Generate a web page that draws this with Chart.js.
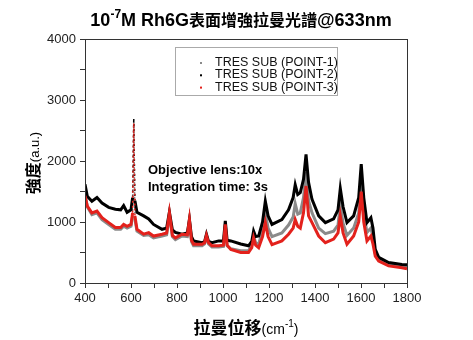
<!DOCTYPE html>
<html>
<head>
<meta charset="utf-8">
<script src="https://cdn.jsdelivr.net/npm/chart.js@4/dist/chart.umd.min.js"></script>
<style>
  html, body { margin: 0; padding: 0; background: #fff; }
  #wrap { width: 473px; height: 340px; }
</style>
</head>
<body>
<div id="wrap"><canvas id="c" width="473" height="340"></canvas></div>
<script>
const wavenumbers = [400, 410, 430, 452, 474, 503, 532, 555, 568, 583, 600, 607, 612, 617, 626, 655, 677, 698, 735, 755, 767, 780, 793, 822, 845, 854, 863, 872, 909, 920, 928, 937, 952, 981, 1002, 1010, 1018, 1034, 1077, 1111, 1125, 1133, 1142, 1155, 1172, 1184, 1196, 1213, 1256, 1285, 1305, 1314, 1325, 1336, 1350, 1361, 1372, 1387, 1416, 1445, 1481, 1500, 1510, 1522, 1539, 1568, 1590, 1601, 1612, 1626, 1643, 1652, 1662, 1677, 1720, 1778, 1800];

const point1 = [1460, 1250, 1120, 1150, 1040, 960, 880, 880, 930, 900, 930, 1100, 2650, 1050, 850, 780, 790, 740, 770, 790, 1120, 760, 710, 770, 760, 1010, 680, 610, 610, 640, 760, 640, 590, 590, 600, 940, 610, 560, 530, 530, 620, 770, 660, 640, 860, 1150, 900, 760, 820, 950, 1080, 1300, 1130, 1150, 1400, 1820, 1350, 1150, 900, 810, 850, 950, 1280, 980, 780, 900, 1150, 1700, 1150, 830, 900, 760, 480, 380, 300, 280, 270];

const point2 = [1620, 1420, 1340, 1400, 1310, 1240, 1210, 1200, 1270, 1160, 1200, 1400, 2700, 1350, 1160, 1100, 1050, 960, 880, 900, 1160, 870, 830, 800, 820, 1040, 760, 690, 660, 680, 800, 680, 660, 690, 690, 1020, 700, 690, 640, 610, 680, 850, 760, 770, 1000, 1340, 1100, 960, 1040, 1200, 1400, 1610, 1450, 1480, 1700, 2110, 1650, 1370, 1100, 990, 1050, 1200, 1550, 1250, 990, 1100, 1400, 1950, 1400, 990, 1070, 900, 550, 420, 335, 305, 300];

const point3 = [1430, 1260, 1150, 1180, 1070, 990, 910, 910, 960, 930, 960, 1150, 2620, 1100, 880, 800, 825, 770, 800, 820, 1150, 780, 740, 800, 790, 1040, 700, 635, 635, 660, 780, 660, 610, 610, 620, 960, 620, 550, 500, 500, 580, 740, 620, 580, 760, 990, 760, 630, 690, 800, 900, 1040, 930, 900, 1150, 1590, 1100, 990, 770, 660, 720, 820, 1100, 820, 635, 770, 1000, 1500, 1000, 690, 770, 640, 440, 360, 280, 250, 235];

const seriesLabels = ['TRES SUB (POINT-1)', 'TRES SUB (POINT-2)', 'TRES SUB (POINT-3)'];
const seriesColors = ['#8a8a8a', '#000000', '#e3211c'];
const xTickLabels = [400, 600, 800, 1000, 1200, 1400, 1600, 1800];
const yTickLabels = [0, 1000, 2000, 3000, 4000];

const toPts = arr => arr.map((v, i) => ({ x: wavenumbers[i], y: v }));

const LAT = '"Liberation Sans", Arial, "Noto Sans CJK TC", sans-serif';
const CJK = '"Noto Sans CJK TC", "Liberation Sans", sans-serif';

const spikeSeg = c => (c.p0.parsed.x === 612 || c.p1.parsed.x === 612);

const decorPlugin = {
  id: 'decor',
  afterDraw(chart) {
    const ctx = chart.ctx;
    const a = chart.chartArea;
    ctx.save();
    ctx.strokeStyle = '#333';
    ctx.lineWidth = 1;
    ctx.strokeRect(Math.round(a.left) + 0.5, Math.round(a.top) + 0.5, Math.round(a.right - a.left), Math.round(a.bottom - a.top));

    ctx.fillStyle = '#000';
    ctx.textBaseline = 'alphabetic';
    const tParts = [
      { t: '10', f: 'bold 18px ' + LAT, dy: 0 },
      { t: '-7', f: 'bold 12px ' + LAT, dy: -8 },
      { t: 'M Rh6G', f: 'bold 18px ' + LAT, dy: 0 },
      { t: '表面增強拉曼光譜', f: 'bold 16px ' + CJK, dy: 0 },
      { t: '@633nm', f: 'bold 18px ' + LAT, dy: 0 }
    ];
    let tw = 0;
    tParts.forEach(p => { ctx.font = p.f; p.w = ctx.measureText(p.t).width; tw += p.w; });
    let tx = 241 - tw / 2;
    tParts.forEach(p => { ctx.font = p.f; ctx.textAlign = 'left'; ctx.fillText(p.t, tx, 26 + p.dy); tx += p.w; });

    const xParts = [
      { t: '拉曼位移', f: 'bold 17px ' + CJK, dy: 0 },
      { t: '(cm', f: '14px ' + LAT, dy: 0 },
      { t: '-1', f: '10px ' + LAT, dy: -7 },
      { t: ')', f: '14px ' + LAT, dy: 0 }
    ];
    let xw = 0;
    xParts.forEach(p => { ctx.font = p.f; p.w = ctx.measureText(p.t).width; xw += p.w; });
    let xx = 246 - xw / 2;
    xParts.forEach(p => { ctx.font = p.f; ctx.fillText(p.t, xx, 334 + p.dy); xx += p.w; });

    ctx.save();
    ctx.translate(39, 163);
    ctx.rotate(-Math.PI / 2);
    const yParts = [
      { t: '強度', f: 'bold 16px ' + CJK },
      { t: '(a.u.)', f: '13px ' + LAT }
    ];
    let yw = 0;
    yParts.forEach(p => { ctx.font = p.f; p.w = ctx.measureText(p.t).width; yw += p.w; });
    let yx = -yw / 2;
    yParts.forEach(p => { ctx.font = p.f; ctx.fillText(p.t, yx, 0); yx += p.w; });
    ctx.restore();

    ctx.font = 'bold 13px ' + LAT;
    ctx.textAlign = 'left';
    ctx.fillText('Objective lens:10x', 148, 174);
    ctx.fillText('Integration time: 3s', 148, 191);

    const lx = 175, ly = 47, lw = 162, lh = 48;
    ctx.fillStyle = '#fff';
    ctx.fillRect(lx, ly, lw, lh);
    ctx.strokeStyle = '#aaa';
    ctx.lineWidth = 1;
    ctx.strokeRect(lx + 0.5, ly + 0.5, lw, lh);
    ctx.font = '12.5px ' + LAT;
    ctx.textBaseline = 'middle';
    chart.data.datasets.forEach((ds, i) => {
      const cy = 62 + i * 12.3;
      ctx.fillStyle = ds.borderColor;
      ctx.fillRect(200, cy, 2, 2);
      ctx.fillStyle = '#111';
      ctx.fillText(ds.label, 215, cy + 0.5);
    });
    ctx.restore();
  }
};

const segOpts = {
  borderDash: c => spikeSeg(c) ? [2, 3] : undefined,
  borderWidth: c => spikeSeg(c) ? 1.5 : undefined
};

new Chart(document.getElementById('c'), {
  type: 'line',
  data: {
    datasets: [
      { label: seriesLabels[0], data: toPts(point1), borderColor: seriesColors[0], backgroundColor: seriesColors[0], order: 3, segment: segOpts },
      { label: seriesLabels[1], data: toPts(point2), borderColor: seriesColors[1], backgroundColor: seriesColors[1], order: 2, segment: segOpts },
      { label: seriesLabels[2], data: toPts(point3), borderColor: seriesColors[2], backgroundColor: seriesColors[2], order: 1, segment: segOpts }
    ]
  },
  options: {
    responsive: false,
    animation: false,
    events: [],
    layout: { padding: { top: 39, right: 66, left: 0, bottom: 0 } },
    elements: {
      line: { borderWidth: 3, tension: 0 },
      point: { radius: 0 }
    },
    plugins: { legend: { display: false }, title: { display: false }, tooltip: { enabled: false } },
    scales: {
      x: {
        type: 'linear',
        min: 400, max: 1800,
        afterFit(s) { s.height = 57; },
        afterBuildTicks(s) {
          const t = [];
          for (let v = 400; v <= 1800; v += 100) t.push({ value: v });
          s.ticks = t;
        },
        ticks: {
          autoSkip: false, maxRotation: 0, padding: 3,
          color: '#222', font: { family: LAT, size: 13 },
          callback: v => xTickLabels.includes(v) ? String(v) : ''
        },
        grid: { drawOnChartArea: false, tickLength: 5, color: '#333' },
        border: { display: true, color: '#333' }
      },
      y: {
        min: 0, max: 4000,
        afterFit(s) { s.width = 85; },
        afterBuildTicks(s) {
          const t = [];
          for (let v = 0; v <= 4000; v += 500) t.push({ value: v });
          s.ticks = t;
        },
        ticks: {
          autoSkip: false, padding: 4,
          color: '#222', font: { family: LAT, size: 13 },
          callback: v => yTickLabels.includes(v) ? String(v) : ''
        },
        grid: { drawOnChartArea: false, tickLength: 5, color: '#333' },
        border: { display: true, color: '#333' }
      }
    }
  },
  plugins: [decorPlugin]
});
</script>
</body>
</html>
